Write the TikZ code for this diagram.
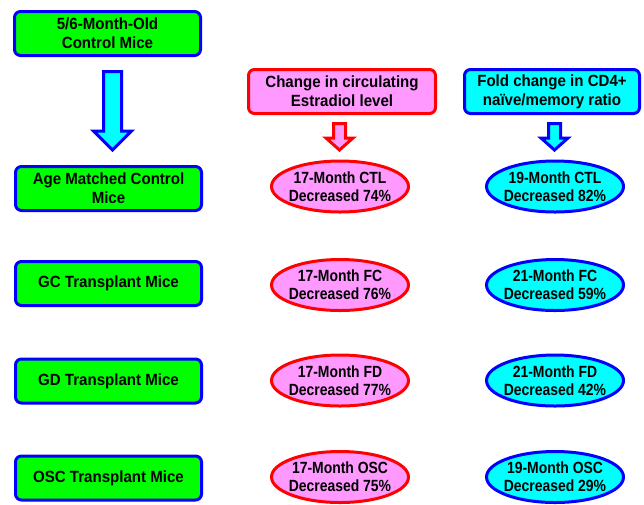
\documentclass[tikz,border=0pt]{standalone}
\usepackage{fontspec}
\setmainfont{Liberation Sans}
\newfontfamily\boxfont{Liberation Sans}[FakeStretch=0.93]
\newfontfamily\narrowfont{Liberation Sans}[FakeStretch=0.86]
\usetikzlibrary{shapes.geometric}
\definecolor{grn}{HTML}{00FF00}
\definecolor{blu}{HTML}{0000FF}
\definecolor{rd}{HTML}{FF0000}
\definecolor{pnk}{HTML}{FF99FF}
\definecolor{cyn}{HTML}{00FFFF}
\tikzset{
  box/.style={draw, line width=3pt, rounded corners=6pt, minimum height=44pt, align=center,
    font=\boxfont\fontsize{16.2}{19}\selectfont\bfseries, inner sep=0pt},
  greenbox/.style={box, draw=blu, fill=grn, minimum width=186pt},
  pinkbox/.style={box, draw=rd, fill=pnk, minimum width=187pt},
  cyanbox/.style={box, draw=blu, fill=cyn, minimum width=175pt},
  oval/.style={ellipse, line width=3pt, minimum width=137pt, minimum height=51pt,
    inner xsep=-12pt, inner ysep=-4pt,
    align=center, font=\narrowfont\fontsize{16.2}{18.3}\selectfont\bfseries},
  pinkoval/.style={oval, draw=rd, fill=pnk},
  cyanoval/.style={oval, draw=blu, fill=cyn},
  blockarrow/.style={line width=3pt, miter limit=10}
}
\begin{document}
\begin{tikzpicture}[x=1pt,y=-1pt]
\useasboundingbox (0,0) rectangle (644,504);
% left column
\node[greenbox] (top) at (107.5,33.5) {5/6-Month-Old\\Control Mice};
\node[greenbox] (age) at (108.5,188.5) {Age Matched Control\\Mice};
\node[greenbox] (gc) at (108.5,283.5) {GC Transplant Mice};
\node[greenbox] (gd) at (108.5,381) {GD Transplant Mice};
\node[greenbox] (osc) at (108.5,478) {OSC Transplant Mice};
% headers
\node[pinkbox] (estr) at (342,91.5) {Change in circulating\\Estradiol level};
\node[cyanbox] (fold) at (552,91.5) {Fold change in CD4+\\naïve/memory ratio};
% ellipses
\node[pinkoval] (p1) at (340,186.5) {17-Month CTL\\Decreased 74\%};
\node[pinkoval] (p2) at (340,285) {17-Month FC\\Decreased 76\%};
\node[pinkoval] (p3) at (340,380.5) {17-Month FD\\Decreased 77\%};
\node[pinkoval] (p4) at (340,477) {17-Month OSC\\Decreased 75\%};
\node[cyanoval] (c1) at (555,186.5) {19-Month CTL\\Decreased 82\%};
\node[cyanoval] (c2) at (555,285) {21-Month FC\\Decreased 59\%};
\node[cyanoval] (c3) at (555,380.5) {21-Month FD\\Decreased 42\%};
\node[cyanoval] (c4) at (555,477) {19-Month OSC\\Decreased 29\%};
% block arrows
\draw[blockarrow, draw=blu, fill=cyn]
  (103.5,71.5) -- (121.5,71.5) -- (121.5,131) -- (131.5,131) -- (112.5,150)
  -- (93.5,131) -- (103.5,131) -- cycle;
\draw[blockarrow, draw=rd, fill=pnk]
  (333.5,123.5) -- (345.5,123.5) -- (345.5,138) -- (353,138) -- (339.5,150)
  -- (326,138) -- (333.5,138) -- cycle;
\draw[blockarrow, draw=blu, fill=cyn]
  (548.5,123.5) -- (560.5,123.5) -- (560.5,138) -- (568,138) -- (554.5,150)
  -- (541,138) -- (548.5,138) -- cycle;
\end{tikzpicture}
\end{document}
